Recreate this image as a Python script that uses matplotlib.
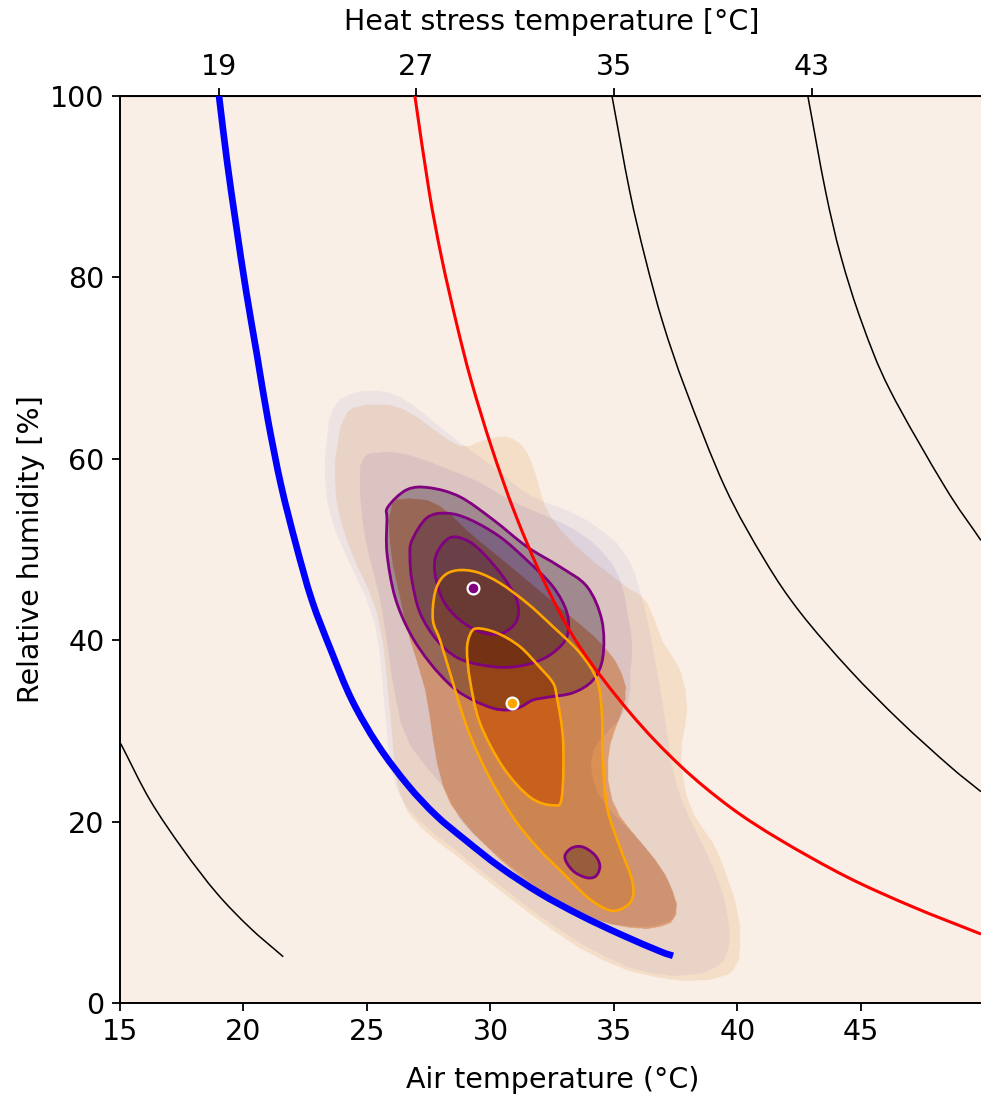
"""Heat stress chart: KDE of air temperature vs relative humidity with heat stress isolines."""

import numpy as np
import matplotlib
matplotlib.use("Agg")
import matplotlib.pyplot as plt  # noqa: E402
from matplotlib.path import Path  # noqa: E402
from matplotlib.patches import PathPatch  # noqa: E402

# ---------------- data ----------------
air_temp_ticks = [15, 20, 25, 30, 35, 40, 45]
rh_ticks = [0, 20, 40, 60, 80, 100]
hst_ticks = [19, 27, 35, 43]

# heat stress isolines (air temperature [°C], relative humidity [%])
hst11_t = [15.03, 16.21, 17.56, 18.92, 20.26, 21.61]
hst11_rh = [28.6, 22.4, 16.9, 12.1, 8.3, 5.1]
hst19_t = [19.01, 19.33, 19.70, 20.10, 20.55, 20.99, 21.52, 22.13, 22.77, 23.54, 24.39,
           25.45, 26.66, 27.79, 28.97, 30.38, 32.00, 33.62, 35.24, 36.86, 37.39]
hst19_rh = [100.0, 92.9, 85.8, 78.6, 71.4, 64.3, 57.1, 50.5, 44.4, 38.9, 33.4,
            28.4, 24.0, 20.7, 18.0, 15.0, 12.1, 9.7, 7.6, 5.7, 5.2]
hst27_t = [26.94, 27.51, 28.02, 28.62, 29.21, 30.04, 30.99, 32.15, 33.56, 35.65, 37.67,
           39.70, 41.72, 44.43, 47.10, 49.86]
hst27_rh = [100.0, 89.6, 82.2, 75.0, 68.7, 61.3, 54.0, 46.6, 39.5, 32.0, 26.2,
            21.6, 18.0, 13.9, 10.6, 7.6]
hst35_t = [34.92, 35.63, 36.26, 36.98, 37.91, 39.49, 41.11, 42.53, 44.55, 46.58, 48.60, 49.86]
hst35_rh = [100.0, 89.6, 82.2, 75.0, 67.6, 56.9, 48.8, 43.1, 36.7, 31.1, 26.1, 23.3]
hst43_t = [42.85, 43.56, 44.19, 45.04, 46.17, 48.40, 49.86]
hst43_rh = [100.0, 89.6, 82.3, 75.0, 67.6, 56.9, 51.0]

# density contours of the "purple" group
purple_l1_t = [23.38, 23.62, 24.31, 25.32, 26.34, 27.47, 28.56, 29.98, 31.19, 32.21, 33.22,
               34.55, 35.53, 36.05, 36.38, 36.66, 36.94, 37.19, 37.47, 38.00, 38.68, 39.29,
               39.62, 39.62, 39.09, 38.08, 36.46, 34.64, 32.61, 30.59, 28.56, 27.15, 26.21,
               25.85, 25.65, 25.32, 24.51, 23.62, 23.30]
purple_l1_rh = [62.1, 65.4, 67.0, 67.4, 66.7, 64.5, 62.1, 59.3, 56.6, 55.1, 54.1,
                51.9, 49.1, 45.3, 41.7, 37.8, 33.4, 29.0, 24.6, 20.7, 16.9, 13.0,
                9.2, 5.8, 3.9, 3.1, 3.3, 5.1, 8.4, 12.5, 16.9, 20.0, 23.5,
                28.4, 34.5, 41.7, 47.2, 52.7, 57.7]
purple_l2_t = [24.72, 24.84, 25.40, 26.62, 28.24, 29.57, 30.67, 31.88, 33.34, 34.55, 35.24,
               35.53, 35.73, 35.65, 35.53, 34.72, 34.15, 34.15, 34.72, 35.77, 36.86, 37.39,
               37.47, 37.06, 35.93, 34.15, 32.53, 31.19, 29.86, 28.77, 28.08, 26.74, 26.17,
               25.85, 25.53, 25.12, 24.80]
purple_l2_rh = [57.7, 59.9, 60.6, 60.4, 58.8, 57.3, 55.5, 54.0, 52.2, 49.6, 46.6,
                43.0, 39.5, 36.4, 32.6, 29.8, 27.7, 24.6, 21.6, 18.7, 15.0, 12.1,
                9.9, 8.8, 8.4, 9.2, 11.4, 14.3, 17.2, 20.2, 23.8, 28.4, 33.4,
                38.9, 44.4, 48.8, 53.3]
purple_l3_t = [25.85, 26.62, 27.55, 28.77, 30.10, 31.48, 32.81, 33.91, 34.51, 34.55, 34.15,
               33.34, 32.29, 31.72, 31.19, 30.67, 30.10, 29.29, 28.48, 27.55, 26.74, 26.13,
               25.81, 25.81]
purple_l3_rh = [54.7, 56.6, 56.8, 55.8, 53.3, 50.3, 48.1, 45.9, 42.2, 38.1, 35.6,
                34.2, 33.7, 33.4, 32.6, 32.3, 32.5, 33.4, 34.8, 37.5, 40.8, 44.8,
                49.6, 53.3]
purple_island_t = [33.02, 33.30, 33.74, 34.23, 34.43, 34.27, 33.91, 33.42, 33.10]
purple_island_rh = [16.3, 17.1, 17.2, 16.3, 15.1, 14.0, 13.8, 14.4, 15.4]
purple_l4_t = [26.82, 27.43, 28.24, 29.17, 30.38, 31.48, 32.53, 33.10, 33.10, 32.53, 31.72,
               30.67, 29.57, 28.64, 27.83, 27.15, 26.82, 26.74]
purple_l4_rh = [51.0, 53.5, 54.0, 53.3, 51.4, 48.8, 45.9, 43.0, 40.4, 38.6, 37.5,
                37.0, 37.3, 38.1, 40.0, 43.0, 46.6, 49.2]
purple_l5_t = [28.36, 27.83, 27.75, 28.08, 28.77, 29.70, 30.51, 31.07, 31.07, 30.51, 29.70, 29.05]
purple_l5_rh = [51.3, 49.6, 47.4, 44.4, 42.2, 40.8, 40.8, 42.2, 44.4, 47.0, 49.6, 51.0]

# density contours of the "orange" group
orange_l1_t = [23.79, 24.19, 25.24, 26.46, 27.67, 28.77, 29.45, 30.26, 30.91, 31.48, 31.88,
               32.21, 32.81, 33.83, 34.84, 35.65, 36.34, 36.98, 37.67, 37.96, 37.75, 37.79,
               38.20, 39.01, 39.57, 39.98, 40.10, 39.82, 38.60, 36.58, 34.55, 32.53, 30.51,
               28.48, 27.15, 26.34, 26.05, 25.81, 25.40, 24.60, 23.91, 23.70]
orange_l1_rh = [61.3, 65.0, 65.9, 65.4, 63.2, 61.3, 61.7, 62.3, 62.1, 60.6, 57.7,
                54.7, 52.2, 49.4, 47.2, 45.5, 44.1, 39.7, 36.7, 32.3, 28.7, 24.9,
                20.9, 17.6, 13.9, 10.3, 6.6, 3.6, 2.5, 2.9, 4.7, 8.0, 12.1,
                16.5, 19.4, 22.9, 28.2, 35.6, 43.0, 48.1, 53.3, 57.7]
orange_l2_t = [26.01, 26.94, 27.96, 28.97, 29.98, 31.19, 32.41, 33.62, 34.64, 35.32, 35.45,
               35.04, 34.76, 34.92, 35.65, 36.66, 37.35, 37.51, 36.86, 35.65, 34.03, 32.41,
               30.99, 29.78, 28.77, 28.08, 27.67, 27.35, 26.74, 26.26, 25.93]
orange_l2_rh = [54.9, 55.5, 54.7, 52.2, 49.9, 47.2, 44.4, 41.7, 39.1, 36.2, 33.4,
                30.1, 26.8, 22.4, 19.1, 15.8, 12.5, 9.7, 8.4, 8.3, 9.4, 11.6,
                14.4, 17.4, 20.4, 23.8, 29.0, 34.5, 40.0, 45.5, 50.5]
orange_l3_t = [28.64, 29.45, 30.38, 31.48, 32.53, 33.62, 34.31, 34.51, 34.55, 34.72, 35.24,
               35.73, 35.73, 35.24, 34.72, 33.91, 32.94, 31.88, 30.91, 29.86, 29.05, 28.36,
               27.96, 27.67, 27.75, 28.08]
orange_l3_rh = [47.7, 47.5, 46.3, 44.1, 41.5, 38.6, 35.6, 32.0, 27.1, 21.6, 17.2,
                13.6, 11.4, 10.3, 10.3, 11.7, 14.3, 17.2, 20.5, 25.4, 30.4, 36.4,
                40.0, 42.2, 45.2, 47.0]
orange_l4_t = [29.45, 30.26, 31.19, 32.00, 32.53, 32.69, 32.94, 32.89, 32.53, 31.60, 30.51,
               29.57, 29.17, 29.05, 29.17]
orange_l4_rh = [41.3, 40.8, 39.3, 37.0, 35.3, 33.7, 29.0, 22.7, 21.8, 22.7, 26.0,
                30.9, 35.6, 38.9, 40.6]

# group medians
purple_median = (29.28, 45.7)
orange_median = (30.86, 33.1)

# ---------------- styling ----------------
BG = np.array([250, 239, 230]) / 255
# per-level colour filters, multiplied together where the two groups overlap
ORANGE_FILTER = np.array([[1, 1, 1], [.98, .93, .87], [.93, .70, .52], [.92, .63, .37], [.90, .46, .14]])
PURPLE_FILTER = np.array([[1, 1, 1], [.95, .95, .99], [.89, .88, .96], [.66, .62, .72],
                          [.52, .45, .65], [.46, .38, .60]])

plt.rcParams["font.family"] = ["DejaVu Sans"]
plt.rcParams["font.size"] = 20.5


def smooth(t, rh, closed=False):
    """Catmull-Rom curve through the read points, as a bezier Path."""
    p = np.column_stack([t, rh]).astype(float)
    if closed:
        ext = np.vstack([p[-1], p, p[0], p[1]])
    else:
        ext = np.vstack([2 * p[0] - p[1], p, 2 * p[-1] - p[-2]])
    verts, codes = [p[0]], [Path.MOVETO]
    for i in range(1, len(ext) - 2):
        p0, p1, p2, p3 = ext[i - 1], ext[i], ext[i + 1], ext[i + 2]
        verts += [p1 + (p2 - p0) / 6, p2 - (p3 - p1) / 6, p2]
        codes += [Path.CURVE4] * 3
    return Path(verts, codes)


def level_map(levels, pts, shape):
    lev = np.zeros(len(pts), dtype=int)
    for lv, t, rh in levels:
        inside = smooth(t, rh, closed=True).contains_points(pts)
        lev[inside] = lv
    return lev.reshape(shape)


def draw(path, **kw):
    ax.add_patch(PathPatch(path, fill=False, **kw))


fig = plt.figure(figsize=(9.81, 10.97), dpi=100)
ax = fig.add_axes([0.1223, 0.0857, 0.8812, 0.8268])
ax.set_facecolor(BG)

# rasterised filled density bands (two groups blended multiplicatively)
ext = (22.0, 42.0, 0.0, 72.0)
nt, nr = 1000, 1200
tc = ext[0] + (np.arange(nt) + 0.5) * (ext[1] - ext[0]) / nt
rc = ext[2] + (np.arange(nr) + 0.5) * (ext[3] - ext[2]) / nr
TT, RR = np.meshgrid(tc, rc)
pts = np.column_stack([TT.ravel(), RR.ravel()])
lev_o = level_map([(1, orange_l1_t, orange_l1_rh), (2, orange_l2_t, orange_l2_rh),
                   (3, orange_l3_t, orange_l3_rh), (4, orange_l4_t, orange_l4_rh)], pts, TT.shape)
lev_p = level_map([(1, purple_l1_t, purple_l1_rh), (2, purple_l2_t, purple_l2_rh),
                   (3, purple_l3_t, purple_l3_rh), (3, purple_island_t, purple_island_rh),
                   (4, purple_l4_t, purple_l4_rh), (5, purple_l5_t, purple_l5_rh)], pts, TT.shape)
rgb = BG * ORANGE_FILTER[lev_o] * PURPLE_FILTER[lev_p]
ax.imshow(rgb, extent=ext, origin="lower", aspect="auto", zorder=1)

# contour lines
for t, rh in [(purple_l3_t, purple_l3_rh), (purple_l4_t, purple_l4_rh),
              (purple_l5_t, purple_l5_rh), (purple_island_t, purple_island_rh)]:
    draw(smooth(t, rh, closed=True), edgecolor="purple", lw=2.0, zorder=3)
for t, rh in [(orange_l3_t, orange_l3_rh), (orange_l4_t, orange_l4_rh)]:
    draw(smooth(t, rh, closed=True), edgecolor="orange", lw=1.9, zorder=4)

# heat stress isolines
for t, rh in [(hst11_t, hst11_rh), (hst35_t, hst35_rh), (hst43_t, hst43_rh)]:
    draw(smooth(t, rh), edgecolor="black", lw=1.1, zorder=5)
draw(smooth(hst27_t, hst27_rh), edgecolor="red", lw=2.2, zorder=5)
draw(smooth(hst19_t, hst19_rh), edgecolor="blue", lw=4.8, zorder=5, capstyle="butt")

ax.plot(*purple_median, "o", color="purple", ms=8.5, mec="white", mew=1.6, zorder=6)
ax.plot(*orange_median, "o", color="orange", ms=8.5, mec="white", mew=1.6, zorder=6)

ax.set_xlim(15, 50)
ax.set_ylim(0, 100)
ax.set_xticks(air_temp_ticks)
ax.set_yticks(rh_ticks)
ax.tick_params(length=6, width=1.3, pad=5)
for sp in ax.spines.values():
    sp.set_linewidth(1.4)
ax.set_xlabel("Air temperature (°C)", labelpad=14)
ax.set_ylabel("Relative humidity [%]", labelpad=4)

secax = ax.secondary_xaxis("top")
secax.set_xticks(hst_ticks)
secax.tick_params(length=6, width=1.3, pad=5)
secax.set_xlabel("Heat stress temperature [°C]", labelpad=16)

fig.savefig("out.png", dpi=100)
